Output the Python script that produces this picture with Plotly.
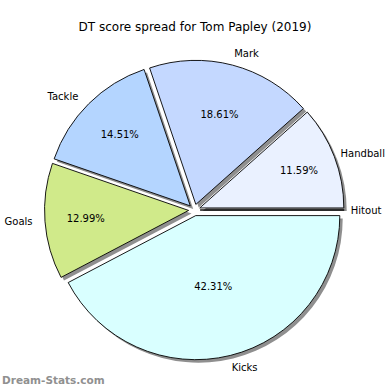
import plotly.graph_objects as go

labels = ["Hitout", "Handball", "Mark", "Tackle", "Goals", "Kicks"]
values = [0.00, 11.59, 18.61, 14.51, 12.99, 42.31]
colors = ["#d8e8ff", "#eaf1ff", "#c4d8ff", "#b4d5ff", "#d0ea8a", "#d9ffff"]
title_text = "DT score spread for Tom Papley (2019)"
watermark = "Dream-Stats.com"

W = H = 390
cx, cy = 199, 210
pull = 0.04
half = 155
cx_lab, cy_lab = 196, 210
half_lab = 162
sh = 3

def dom(h, x, y, dx=0, dy=0):
    x0 = (x + dx - h) / W
    x1 = (x + dx + h) / W
    y0 = (H - (y + dy) - h) / H
    y1 = (H - (y + dy) + h) / H
    return dict(x=[x0, x1], y=[y0, y1])

common = dict(
    labels=labels, values=values, sort=False, direction="counterclockwise",
    rotation=90, hoverinfo="skip",
)

fig = go.Figure()
# shadow
fig.add_trace(go.Pie(
    **common, domain=dom(half, cx, cy, sh, sh), pull=[pull] * len(values),
    marker=dict(colors=["#8f8f8f"] * len(values), line=dict(width=0)),
    textinfo="none", showlegend=False,
))
# main pie with percentages
fig.add_trace(go.Pie(
    **common, domain=dom(half, cx, cy), pull=[pull] * len(values),
    marker=dict(colors=colors, line=dict(color="black", width=0.9)),
    texttemplate="%{percent:.2%}", textposition="inside",
    insidetextorientation="horizontal",
    textfont=dict(family="DejaVu Sans", size=10, color="black"),
    showlegend=False,
))
# labels outside (transparent overlay)
fig.add_trace(go.Pie(
    **common, domain=dom(half_lab, cx_lab, cy_lab),
    marker=dict(colors=["rgba(0,0,0,0)"] * len(values), line=dict(width=0)),
    texttemplate="%{label}", textposition="outside",
    outsidetextfont=dict(family="DejaVu Sans", size=10, color="black"),
    showlegend=False,
))

fig.update_layout(
    width=W, height=H, margin=dict(l=0, r=0, t=0, b=0),
    paper_bgcolor="white", plot_bgcolor="white",
    title=dict(text=title_text, x=0.5, xanchor="center", y=1 - 27 / H, yanchor="middle",
               font=dict(family="DejaVu Sans", size=12, color="black")),
    annotations=[dict(text=watermark, x=0, y=10 / H, xref="paper", yref="paper",
                      xanchor="left", yanchor="middle", showarrow=False, xshift=-2,
                      font=dict(family="DejaVu Sans", size=10.5, color="#909090", weight="bold"))],
)
fig.write_html("out.html", config={"displayModeBar": False},
               post_script="document.body.style.margin='0';")
